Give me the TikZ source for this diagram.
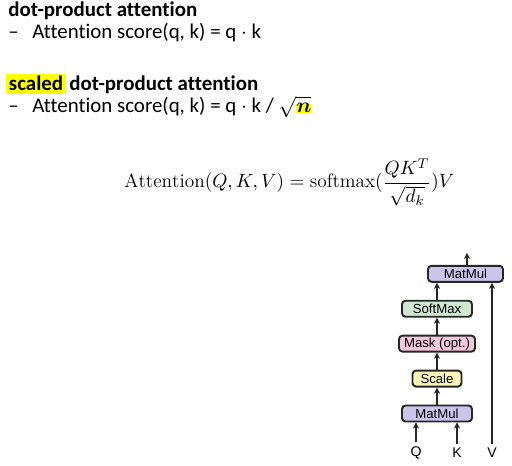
\documentclass[tikz,border=0pt]{standalone}
\usepackage{amsmath}
\usepackage{fontspec}
\newfontfamily\calibri[Ligatures=NoCommon]{Carlito}
\newfontfamily\helv{Liberation Sans}
\usetikzlibrary{arrows.meta, positioning}

\definecolor{matcol}{RGB}{203,197,236}
\definecolor{softcol}{RGB}{206,232,210}
\definecolor{maskcol}{RGB}{246,198,217}
\definecolor{scalecol}{RGB}{251,246,184}
\definecolor{hl}{RGB}{255,255,0}

\begin{document}
\begin{tikzpicture}[x=0.02cm, y=-0.02cm, node distance=0.34cm,
    every node/.style={inner sep=0pt},
    line/.style={font=\calibri\fontsize{11.9}{13}\selectfont, anchor=base west},
    box/.style={rectangle, rounded corners=2pt, draw=black!85, line width=1.1pt,
      minimum height=0.32cm, font=\helv\fontsize{7.5}{8}\selectfont},
    lbl/.style={font=\helv\fontsize{8}{9}\selectfont},
    arr/.style={-{Stealth[length=3.5pt, width=3.5pt]}, line width=0.9pt, black!85}]
    \useasboundingbox (0,0) rectangle (512,466);
    % text lines
    \node[line] (h1) at (8,17) {\bfseries dot-product attention};
    \node[line] (d1) at (8,39) {–};
    \node[line] (t1) at (32,39) {Attention score(q, k) = q $\cdot$ k};
    \node[line] (h2) at (6,91) {\bfseries{\fboxsep=1.5pt\colorbox{hl}{scaled}}\,dot-product attention};
    \node[line] (d2) at (8,113) {–};
    \node[line] (t2) at (32,113) {Attention score(q, k) = q $\cdot$ k / $\sqrt{{\fboxsep=0pt\colorbox{hl}{$\boldsymbol{n}$}}}$};
    % formula
    \node[anchor=base west, font=\fontsize{11}{13}\selectfont] (eq) at (124,188)
      {$\mathrm{Attention}(Q,K,V)=\mathrm{softmax}(\dfrac{QK^T}{\sqrt{d_k}})V$};
    % diagram
    \node[box, fill=matcol, minimum width=1.4cm] (mm1) at (437,413.5) {MatMul};
    \node[box, fill=scalecol, minimum width=0.98cm, above=of mm1] (scale) {Scale};
    \node[box, fill=maskcol, minimum width=1.52cm, above=of scale] (mask) {Mask (opt.)};
    \node[box, fill=softcol, minimum width=1.4cm, above=of mask] (soft) {SoftMax};
    \node[box, fill=matcol, minimum width=1.5cm, above=of soft, xshift=0.57cm] (mm2) {MatMul};
    \node[lbl] (q) at (416,453) {Q};
    \node[lbl] (k) at (457,453) {K};
    \node[lbl] (v) at (492,453) {V};
    \coordinate (out) at (467,253);
    \draw[arr] (q.north) ++(0,-4) -- (q.north |- mm1.south);
    \draw[arr] (k.north) ++(0,-4) -- (k.north |- mm1.south);
    \draw[arr] (v.north) ++(0,-4) -- (v.north |- mm2.south);
    \draw[arr] (mm1) -- (scale);
    \draw[arr] (scale) -- (mask);
    \draw[arr] (mask) -- (soft);
    \draw[arr] (soft.north) -- (soft.north |- mm2.south);
    \draw[arr] (mm2.north -| out) -- (out);
\end{tikzpicture}
\end{document}
